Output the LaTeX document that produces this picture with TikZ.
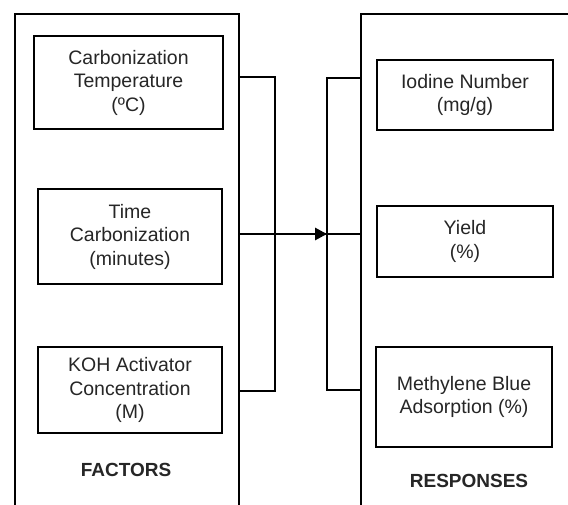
\documentclass[tikz,border=0pt]{standalone}
\usepackage{fontspec}
\setmainfont{Liberation Sans}
\usetikzlibrary{arrows.meta,calc}
\tikzset{
  box/.style={draw, line width=1.8pt, align=center, inner sep=0pt,
    font=\fontsize{19.5}{23.5}\selectfont, text=black!85},
  frame/.style={draw, line width=1.8pt, anchor=north west, inner sep=0pt},
  conn/.style={line width=1.8pt},
  mainarrow/.style={line width=2.8pt, -{Triangle[length=12pt,width=12pt]}},
  title/.style={font=\fontsize{19}{22}\selectfont\bfseries, text=black!85}
}
\begin{document}
\begin{tikzpicture}[x=1pt,y=-1pt]
\useasboundingbox (0,0) rectangle (568,505);
\clip (0,0) rectangle (568,505);
\fill[white] (0,0) rectangle (568,505);
% outer frames
\node[frame, minimum width=224pt, minimum height=540pt] (Lout) at (14,13) {};
\node[frame, minimum width=240pt, minimum height=540pt] (Rout) at (360,13) {};
% factor boxes
\node[box, minimum width=189pt, minimum height=93pt] (L1) at (128.5,82.5) {Carbonization\\Temperature\\(ºC)};
\node[box, minimum width=184pt, minimum height=95pt] (L2) at (130,236.5) {Time\\Carbonization\\(minutes)};
\node[box, minimum width=184pt, minimum height=86pt] (L3) at (130,390) {KOH Activator\\Concentration\\(M)};
\node[title] (F) at (126,470) {FACTORS};
% response boxes
\node[box, minimum width=176pt, minimum height=70pt] (R1) at (465,95) {Iodine Number\\(mg/g)};
\node[box, minimum width=176pt, minimum height=71pt] (R2) at (465,241.5) {Yield\\(\%)};
\node[box, minimum width=176pt, minimum height=100pt] (R3) at (464,397) {Methylene Blue\\Adsorption (\%)};
\node[title] (Rt) at (469,481) {RESPONSES};
% junction coordinates
\coordinate (a1) at (Lout.east |- 0,77);
\coordinate (a2) at (Lout.east |- 0,234);
\coordinate (a3) at (Lout.east |- 0,391);
\coordinate (j1) at (275,77);
\coordinate (j2) at (275,234);
\coordinate (j3) at (275,391);
\coordinate (k1) at (327,78);
\coordinate (k2) at (327,234);
\coordinate (k3) at (327,390);
\coordinate (b1) at (Rout.west |- 0,78);
\coordinate (b2) at (Rout.west |- 0,234);
\coordinate (b3) at (Rout.west |- 0,390);
% connectors
\draw[conn] (a1) -- (j1) -- (j3) -- (a3);
\draw[conn] (a2) -- (b2);
\draw[conn] (b1) -- (k1) -- (k3) -- (b3);
\draw[mainarrow] (j2) -- (k2);
\end{tikzpicture}
\end{document}
